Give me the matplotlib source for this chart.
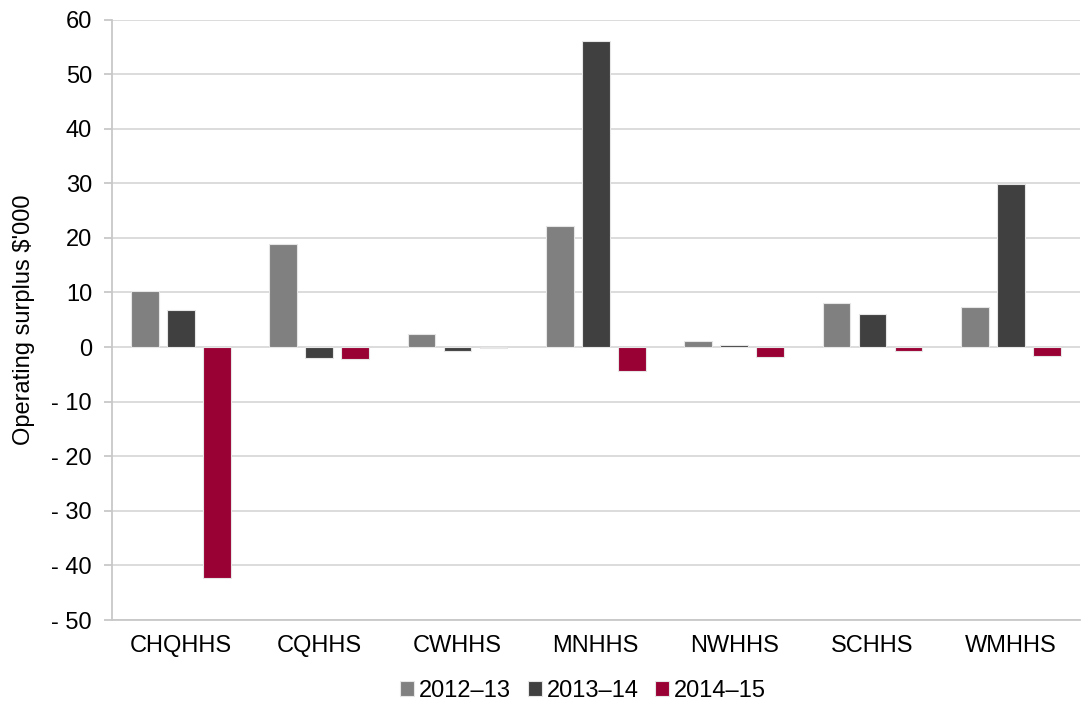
import matplotlib
matplotlib.use("Agg")
import matplotlib.pyplot as plt
import numpy as np

plt.rcParams['font.family'] = ['Liberation Sans', 'DejaVu Sans']

categories = ["CHQHHS", "CQHHS", "CWHHS", "MNHHS", "NWHHS", "SCHHS", "WMHHS"]
series_names = ["2012\u201313", "2013\u201314", "2014\u201315"]
values_2012_13 = [10.3, 18.8, 2.4, 22.1, 1.1, 8.1, 7.4]
values_2013_14 = [6.8, -2.0, -0.8, 56.0, 0.3, 6.0, 29.8]
values_2014_15 = [-42.3, -2.2, -0.1, -4.4, -1.9, -0.8, -1.7]
colors = ["#808080", "#404040", "#990033"]
yticks = list(range(-50, 61, 10))

FS = 17

fig = plt.figure(figsize=(10.87, 7.02), dpi=100)
ax = fig.add_axes([0.1026, 0.1168, 0.8910, 0.8554])

x = np.arange(len(categories))
width = 0.2
step = 0.26
for i, (vals, name, col) in enumerate(zip([values_2012_13, values_2013_14, values_2014_15],
                                          series_names, colors)):
    ax.bar(x + (i - 1) * step, vals, width, color=col, label=name,
           edgecolor="#e6e6e6", linewidth=0.8, zorder=3)

ax.set_xlim(-0.5, len(categories) - 0.5)
ax.set_ylim(-50, 60)
ax.set_yticks(yticks)
ax.set_yticklabels([f"- {abs(t)}" if t < 0 else str(t) for t in yticks])
ax.set_xticks(x)
ax.set_xticklabels(categories)
ax.grid(axis="y", color="#d9d9d9", linewidth=1.3, zorder=0)
ax.set_axisbelow(True)

for s in ["top", "right"]:
    ax.spines[s].set_visible(False)
ax.spines["left"].set_color("#c8c8c8")
ax.spines["left"].set_linewidth(1.3)
ax.spines["bottom"].set_color("#c8c8c8")
ax.spines["bottom"].set_linewidth(1.3)
ax.tick_params(axis="y", length=6, color="#c8c8c8", width=1.3, labelsize=FS, pad=8)
ax.tick_params(axis="x", length=0, labelsize=FS, pad=11)

ax.set_ylabel("Operating surplus $'000", fontsize=FS, labelpad=12)

ax.legend(loc="center", bbox_to_anchor=(0.487, -0.118), ncol=3, frameon=False,
          fontsize=FS, handlelength=0.6, handleheight=0.6, handletextpad=0.2,
          columnspacing=0.7, borderaxespad=0)

fig.savefig("out.png", dpi=100)
